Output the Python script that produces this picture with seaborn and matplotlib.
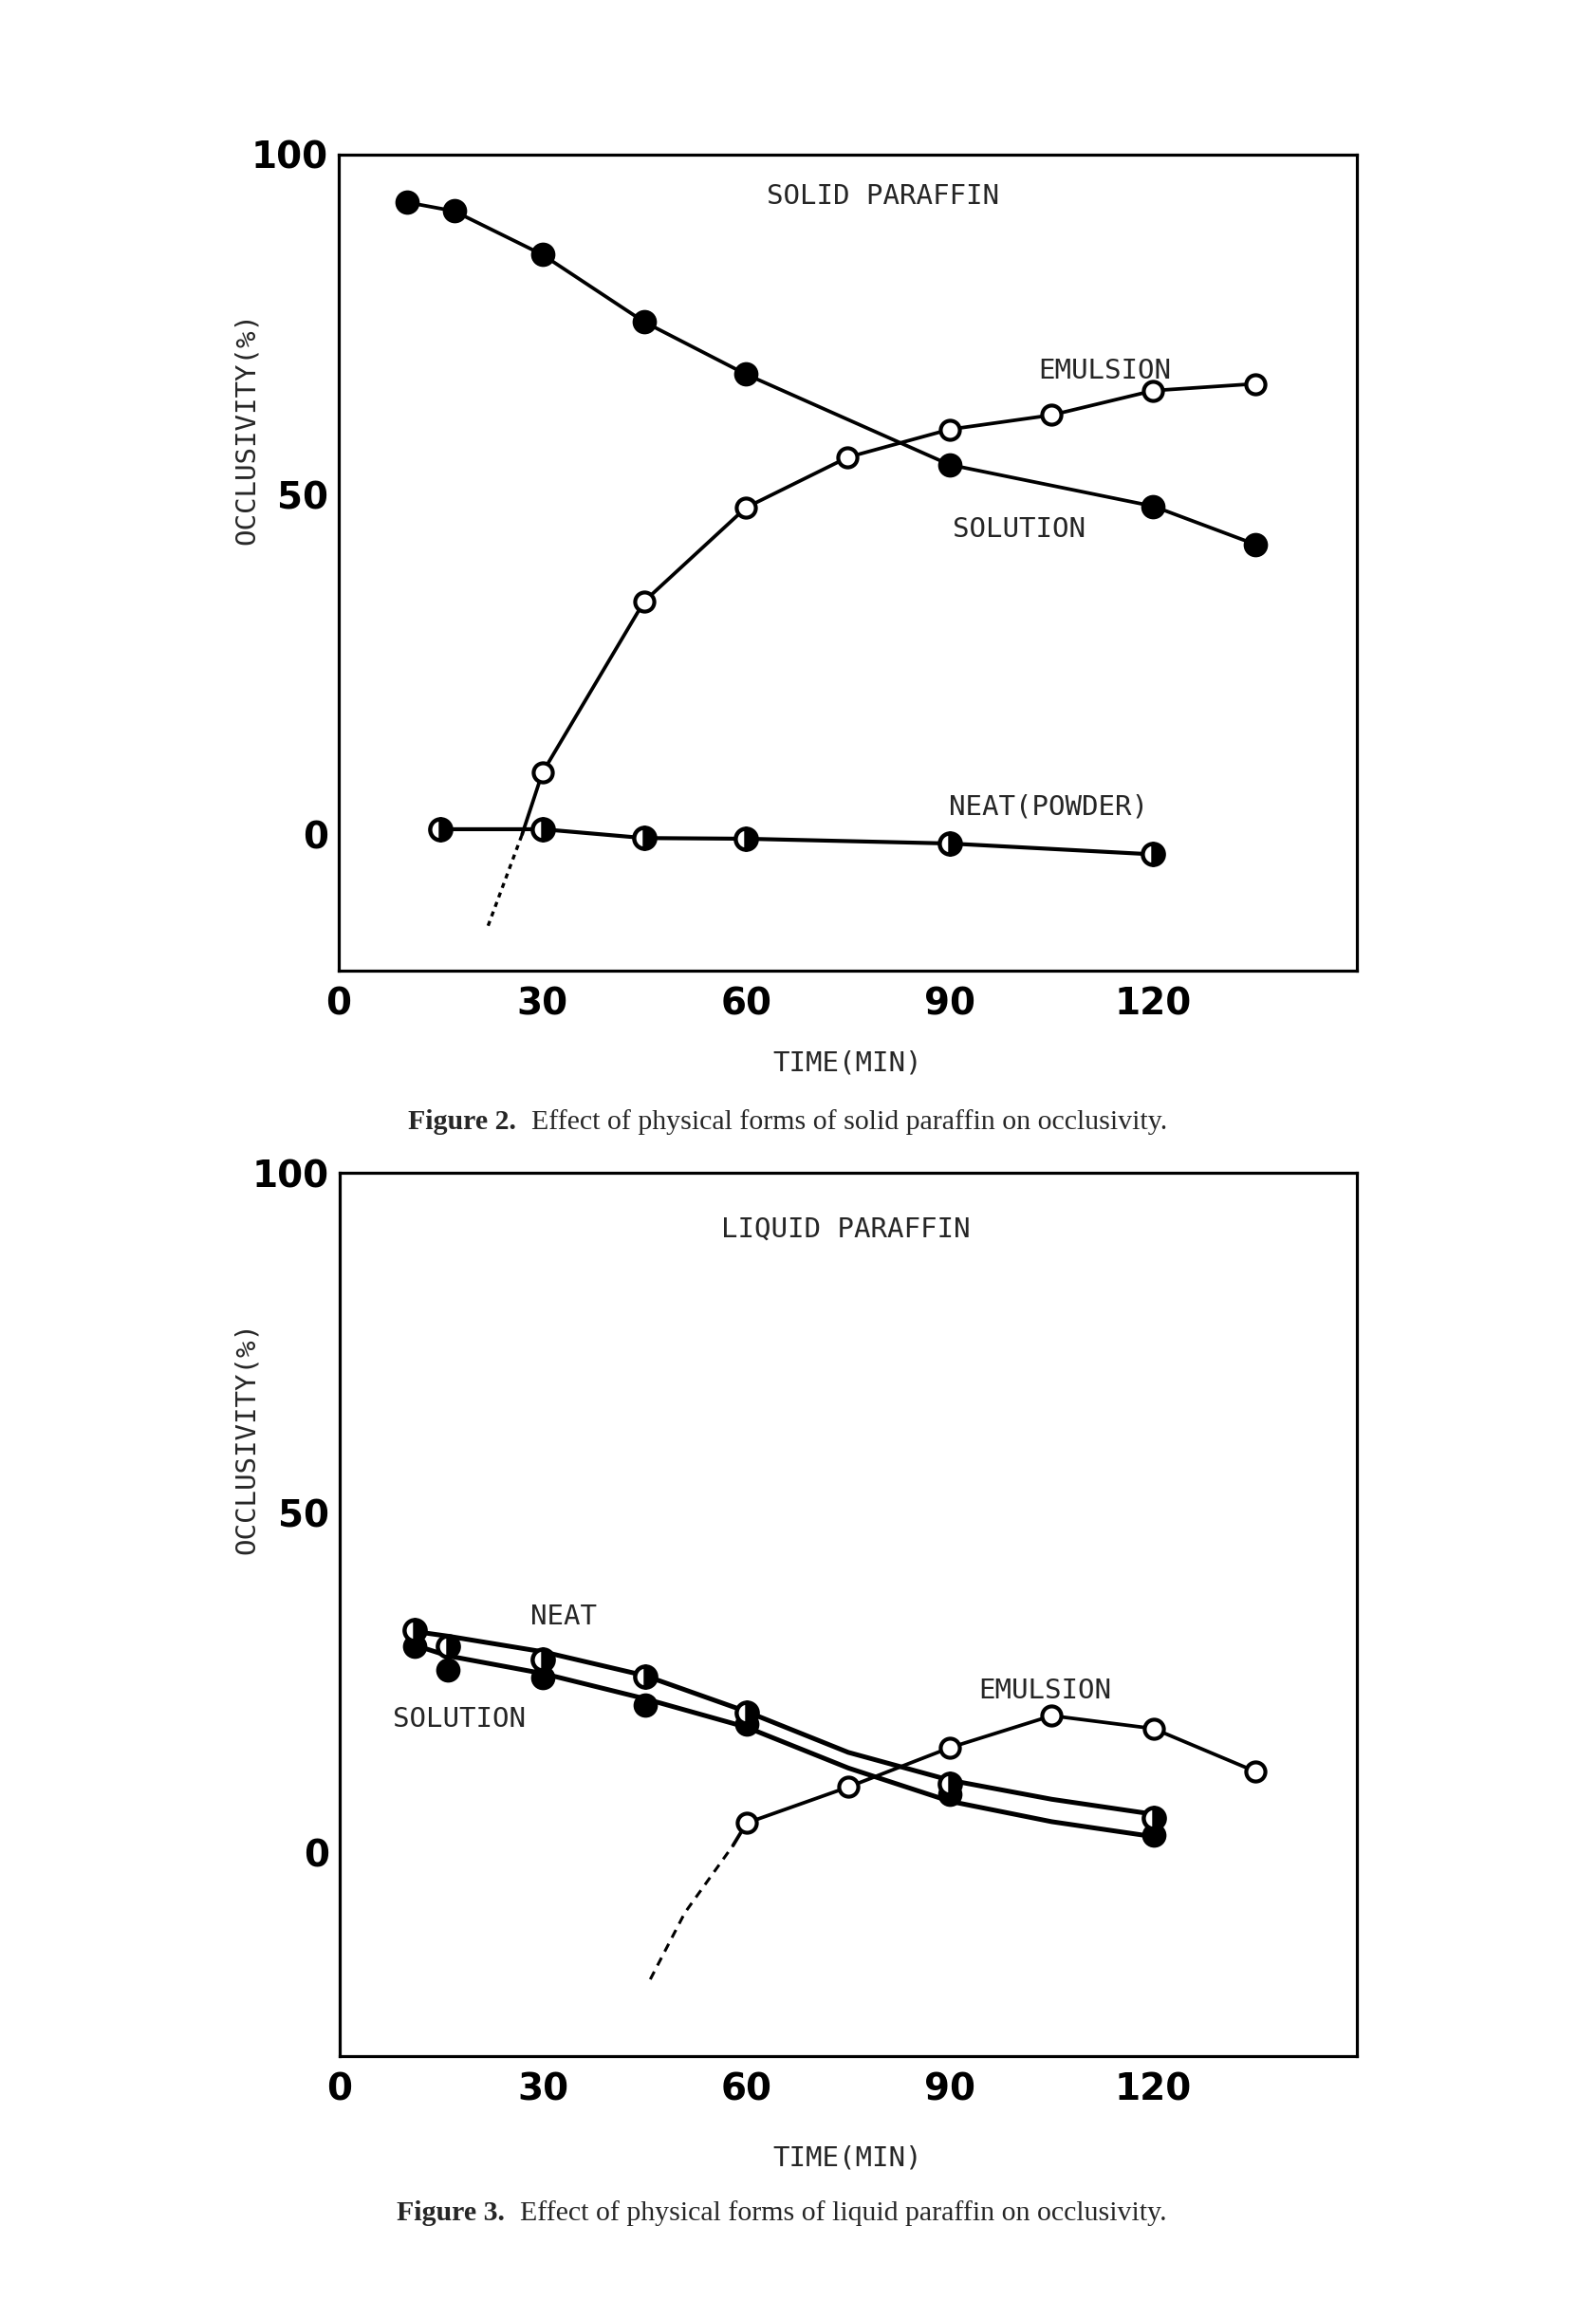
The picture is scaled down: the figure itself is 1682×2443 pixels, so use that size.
import matplotlib
matplotlib.use("Agg")
import matplotlib.pyplot as plt
import seaborn as sns

# ---------------- Figure 2: solid paraffin ----------------
s_time_solution = [10, 17, 30, 45, 60, 90, 120, 135]
s_solution = [93.0, 91.7, 85.3, 75.4, 67.7, 54.4, 48.3, 42.7]

s_time_emulsion = [30, 45, 60, 75, 90, 105, 120, 135]
s_emulsion = [9.1, 34.3, 48.1, 55.5, 59.6, 61.7, 65.3, 66.3]
s_emul_axis_time = [27]          # where the solid curve reaches 0
s_emul_axis_val = [0.0]
s_extrap_time = [22, 27]         # dashed extrapolation
s_extrap = [-13.4, 0.0]

s_time_neat = [15, 30, 45, 60, 90, 120]
s_neat = [0.8, 0.8, -0.5, -0.6, -1.3, -2.9]

# ---------------- Figure 3: liquid paraffin ----------------
l_time = [11, 16, 30, 45, 60, 90, 120]
l_neat = [32.7, 30.3, 28.3, 25.8, 20.5, 10.1, 5.0]
l_solution = [30.3, 26.9, 25.7, 21.7, 18.9, 8.5, 2.5]

l_curve_time = [11, 16, 30, 45, 60, 75, 90, 105, 120]
l_neat_curve = [32.5, 31.8, 29.5, 26.0, 20.7, 14.7, 10.6, 7.8, 5.6]
l_solution_curve = [30.5, 28.9, 26.3, 22.6, 18.4, 12.4, 7.5, 4.5, 2.3]

l_time_emulsion = [60, 75, 90, 105, 120, 135]
l_emulsion = [4.3, 9.6, 15.4, 20.1, 18.2, 11.9]
l_emul_start_time = [58]
l_emul_start_val = [1.0]
l_extrap_time = [45.8, 50.9, 58]
l_extrap = [-18.7, -8.9, 1.0]

x_ticks = [0, 30, 60, 90, 120]
x_ticklabels = ["0", "30", "60", "90", "120"]

sns.set_style("white")
plt.rcParams["font.family"] = ["DejaVu Sans"]

W, H = 1683, 2443
fig = plt.figure(figsize=(W / 100, H / 100), dpi=100)
fig.patch.set_facecolor("white")

def fx(px):
    return px / W

def fy(py):
    return 1 - py / H

ax1 = fig.add_axes([fx(357), fy(1023), fx(1430) - fx(357), fy(163) - fy(1023)])
ax2 = fig.add_axes([fx(358), fy(2167), fx(1430) - fx(358), fy(1236) - fy(2167)])

LW = 2.7
mono = "DejaVu Sans Mono"
ANN = 21

def line(ax, x, y, lw=LW, ls="-", z=2):
    sns.lineplot(x=x, y=y, ax=ax, color="black", lw=lw, linestyle=ls,
                 sort=False, estimator=None, zorder=z)

def markers(ax, x, y, kind):
    common = dict(ax=ax, color="black", linestyle="", sort=False,
                  estimator=None, zorder=5, marker="o")
    if kind == "filled":
        sns.lineplot(x=x, y=y, markersize=17, markerfacecolor="black",
                     markeredgecolor="black", markeredgewidth=1.5, **common)
    elif kind == "open":
        sns.lineplot(x=x, y=y, markersize=14.5, markerfacecolor="white",
                     markeredgecolor="black", markeredgewidth=3.0, **common)
    else:
        sns.lineplot(x=x, y=y, markersize=16, markerfacecolor="black",
                     markerfacecoloralt="white", fillstyle="right",
                     markeredgecolor="black", markeredgewidth=3.2, **common)

# ---- top panel ----
line(ax1, s_time_solution, s_solution)
markers(ax1, s_time_solution, s_solution, "filled")
line(ax1, s_emul_axis_time + s_time_emulsion, s_emul_axis_val + s_emulsion)
line(ax1, s_extrap_time, s_extrap, lw=2.4, ls=(0, (1.6, 1.6)))
markers(ax1, s_time_emulsion, s_emulsion, "open")
line(ax1, s_time_neat, s_neat, lw=3.0)
markers(ax1, s_time_neat, s_neat, "half")

ax1.set_xlim(0, 150)
ax1.set_ylim(-20, 100)
ax1.set_yticks([0, 25, 50, 75, 100])
ax1.set_yticklabels(["0", "", "50", "", "100"])

ax1.text(80.2, 93.9, "SOLID PARAFFIN", family=mono, fontsize=ANN, ha="center", va="center")
ax1.text(112.9, 68.2, "EMULSION", family=mono, fontsize=ANN, ha="center", va="center")
ax1.text(100.2, 44.9, "SOLUTION", family=mono, fontsize=ANN, ha="center", va="center")
ax1.text(104.6, 4.1, "NEAT(POWDER)", family=mono, fontsize=ANN, ha="center", va="center")

# ---- bottom panel ----
line(ax2, l_curve_time, l_neat_curve, lw=3.6)
line(ax2, l_curve_time, l_solution_curve, lw=3.6)
markers(ax2, l_time, l_solution, "filled")
markers(ax2, l_time, l_neat, "half")
line(ax2, l_emul_start_time + l_time_emulsion, l_emul_start_val + l_emulsion, lw=2.7)
line(ax2, l_extrap_time, l_extrap, lw=2.2, ls=(0, (3.0, 2.4)))
markers(ax2, l_time_emulsion, l_emulsion, "open")

ax2.set_xlim(0, 150)
ax2.set_ylim(-30, 100)
ax2.set_yticks([-25, 0, 25, 50, 75, 100])
ax2.set_yticklabels(["", "0", "", "50", "", "100"])

ax2.text(74.6, 91.7, "LIQUID PARAFFIN", family=mono, fontsize=ANN, ha="center", va="center")
ax2.text(33.0, 34.6, "NEAT", family=mono, fontsize=ANN, ha="center", va="center")
ax2.text(17.7, 19.6, "SOLUTION", family=mono, fontsize=ANN, ha="center", va="center")
ax2.text(104.0, 23.7, "EMULSION", family=mono, fontsize=ANN, ha="center", va="center")

for ax in (ax1, ax2):
    ax.set_facecolor("white")
    ax.set_xticks(x_ticks)
    ax.set_xticklabels(x_ticklabels)
    ax.set_xlabel("")
    ax.set_ylabel("")
    for sp in ax.spines.values():
        sp.set_visible(True)
        sp.set_color("black")
        sp.set_linewidth(2.3)
    ax.tick_params(axis="both", direction="in", length=8, width=2.2,
                   color="black", labelcolor="black", labelsize=28)
    ax.tick_params(axis="x", pad=12)
    ax.tick_params(axis="y", pad=8)
    for lab in ax.get_xticklabels() + ax.get_yticklabels():
        lab.set_fontweight("bold")
    ax.grid(False)

# axis titles
fig.text(fx(893), fy(1120), "TIME(MIN)", family=mono, fontsize=ANN, ha="center", va="center")
fig.text(fx(893), fy(2274), "TIME(MIN)", family=mono, fontsize=ANN, ha="center", va="center")
fig.text(fx(260), fy(452), "OCCLUSIVITY(%)", family=mono, fontsize=ANN,
         ha="center", va="center", rotation=90)
fig.text(fx(260), fy(1515), "OCCLUSIVITY(%)", family=mono, fontsize=ANN,
         ha="center", va="center", rotation=90)

# captions: bold label followed by normal text
serif = "Liberation Serif"
CAP = 21.5
renderer = fig.canvas.get_renderer()

def caption(x_px, y_px, label, body):
    t = fig.text(fx(x_px), fy(y_px), label, family=serif, fontsize=CAP,
                 fontweight="bold", ha="left", va="center")
    bb = t.get_window_extent(renderer=renderer)
    fig.text((bb.x1 + 16) / W, fy(y_px), body, family=serif, fontsize=CAP,
             ha="left", va="center")

caption(430, 1183, "Figure 2.", "Effect of physical forms of solid paraffin on occlusivity.")
caption(418, 2333, "Figure 3.", "Effect of physical forms of liquid paraffin on occlusivity.")

fig.savefig("out.png", dpi=100, facecolor="white")
